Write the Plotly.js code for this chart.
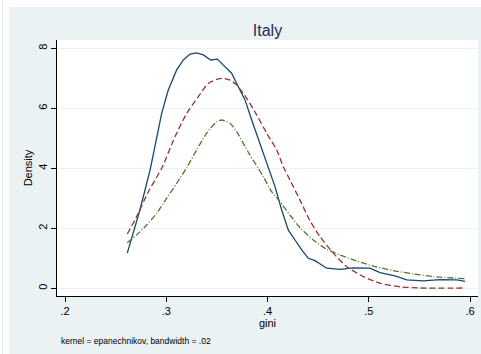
<!DOCTYPE html>
<html>
<head>
<meta charset="utf-8">
<script src="https://cdn.plot.ly/plotly-3.0.1.min.js"></script>
<style>
  html, body { margin: 0; padding: 0; background: #ffffff; }
  body { width: 481px; height: 354px; position: relative; overflow: hidden; }
  #edge { position: absolute; left: 2px; top: 0; width: 1px; height: 354px; background: #e4e8ec; }
  #chart { position: absolute; left: 9px; top: 7px; width: 472px; height: 347px; }
</style>
</head>
<body>
<div id="edge"></div>
<div id="chart"></div>
<script>
// Kernel density of the Gini coefficient, Italy
const giniObserved = [0.2615, 0.274, 0.284, 0.2955, 0.302, 0.3103, 0.3169, 0.3235, 0.330, 0.3366, 0.3439,
  0.3504, 0.3564, 0.3646, 0.3712, 0.3778, 0.3844, 0.3926, 0.4008, 0.4074, 0.414, 0.4206, 0.4272,
  0.4338, 0.4403, 0.4469, 0.4585, 0.4716, 0.4847, 0.5012, 0.5111, 0.5259, 0.5375, 0.5539, 0.5704,
  0.5869, 0.5951];
const densObserved = [1.17, 2.61, 3.94, 5.83, 6.61, 7.28, 7.61, 7.81, 7.85, 7.78, 7.61,
  7.64, 7.44, 7.17, 6.72, 6.28, 5.61, 4.83, 4.0, 3.39, 2.61, 1.94, 1.61,
  1.28, 1.0, 0.92, 0.67, 0.63, 0.68, 0.67, 0.52, 0.41, 0.28, 0.25, 0.29,
  0.28, 0.23];

const giniNormal = [0.2615, 0.2708, 0.2823, 0.2955, 0.3086, 0.3202, 0.3317, 0.3415, 0.3514, 0.3560,
  0.363, 0.3696, 0.3795, 0.3893, 0.3992, 0.4091, 0.4156, 0.4222, 0.4321, 0.442, 0.4519, 0.465,
  0.4782, 0.4946, 0.5111, 0.5309, 0.5506, 0.5951];
const densNormal = [1.81, 2.39, 3.22, 4.0, 5.05, 5.83, 6.39, 6.83, 6.98, 7.0,
  6.94, 6.78, 6.33, 5.78, 5.17, 4.61, 4.05, 3.61, 2.94, 2.25, 1.72, 1.17,
  0.72, 0.39, 0.17, 0.05, 0.01, 0.01];

const giniAlt = [0.2615, 0.2708, 0.2807, 0.2906, 0.3004, 0.3103, 0.3202, 0.330, 0.3399, 0.3498,
  0.3547, 0.363, 0.3696, 0.3761, 0.3827, 0.3909, 0.3959, 0.4041, 0.4123, 0.4222, 0.4321, 0.4452,
  0.4585, 0.4716, 0.4881, 0.5045, 0.5242, 0.544, 0.5638, 0.5951];
const densAlt = [1.52, 1.78, 2.11, 2.5, 3.0, 3.5, 4.02, 4.61, 5.17, 5.55,
  5.61, 5.5, 5.22, 4.83, 4.44, 4.0, 3.72, 3.22, 2.89, 2.44, 2.02, 1.61,
  1.3, 1.11, 0.91, 0.74, 0.59, 0.48, 0.39, 0.32];

const xTickVals = [0.2, 0.3, 0.4, 0.5, 0.6];
const xTickText = ['.2', '.3', '.4', '.5', '.6'];
const yTickVals = [0, 2, 4, 6, 8];
const yTickText = ['0', '2', '4', '6', '8'];

const font = 'Liberation Sans, Arial, Helvetica, sans-serif';
const bg = '#eaf2f3';

const traces = [
  { x: giniObserved, y: densObserved, type: 'scatter', mode: 'lines',
    line: { color: '#1a476f', width: 1.3 }, hoverinfo: 'skip' },
  { x: giniNormal, y: densNormal, type: 'scatter', mode: 'lines',
    line: { color: '#90353b', width: 1.3, dash: '6px,3px', shape: 'spline', smoothing: 0.6 }, hoverinfo: 'skip' },
  { x: giniAlt, y: densAlt, type: 'scatter', mode: 'lines',
    line: { color: '#55752f', width: 1.3, dash: '6px,2px,1px,2px', shape: 'spline', smoothing: 0.6 }, hoverinfo: 'skip' }
];

const layout = {
  width: 472, height: 347,
  paper_bgcolor: bg, plot_bgcolor: '#ffffff',
  margin: { l: 48, r: 3, t: 33, b: 58 },
  showlegend: false,
  font: { family: font, color: '#000000', size: 11 },
  title: { text: 'Italy', font: { family: font, size: 16, color: '#1e2d52' },
           x: 0.5, xref: 'paper', y: 1 - 23 / 347, yref: 'container', yanchor: 'middle' },
  xaxis: {
    range: [0.1921, 0.6079], tickvals: xTickVals, ticktext: xTickText,
    ticks: 'outside', ticklen: 5, tickcolor: '#000', tickwidth: 1,
    showline: true, linecolor: '#000', linewidth: 1, mirror: false,
    showgrid: false, zeroline: false, tickfont: { size: 11 },
    title: { text: 'gini', font: { size: 11 }, standoff: 0 }
  },
  yaxis: {
    range: [-0.257, 8.277], tickvals: yTickVals, ticktext: yTickText, tickangle: -90,
    ticks: 'outside', ticklen: 5, tickcolor: '#000', tickwidth: 1,
    showline: true, linecolor: '#000', linewidth: 1, mirror: false,
    showgrid: true, gridcolor: bg, gridwidth: 1, zeroline: false, tickfont: { size: 11 },
    title: { text: 'Density', font: { size: 11 }, standoff: 1 }
  },
  annotations: [{
    text: 'kernel = epanechnikov, bandwidth = .02', showarrow: false,
    xref: 'paper', yref: 'paper', x: 2 / 421, xanchor: 'left',
    y: -(341 - 296) / 256, yanchor: 'middle', font: { size: 8.5, family: font }
  }]
};

Plotly.newPlot('chart', traces, layout, { displayModeBar: false, staticPlot: true });
</script>
</body>
</html>
